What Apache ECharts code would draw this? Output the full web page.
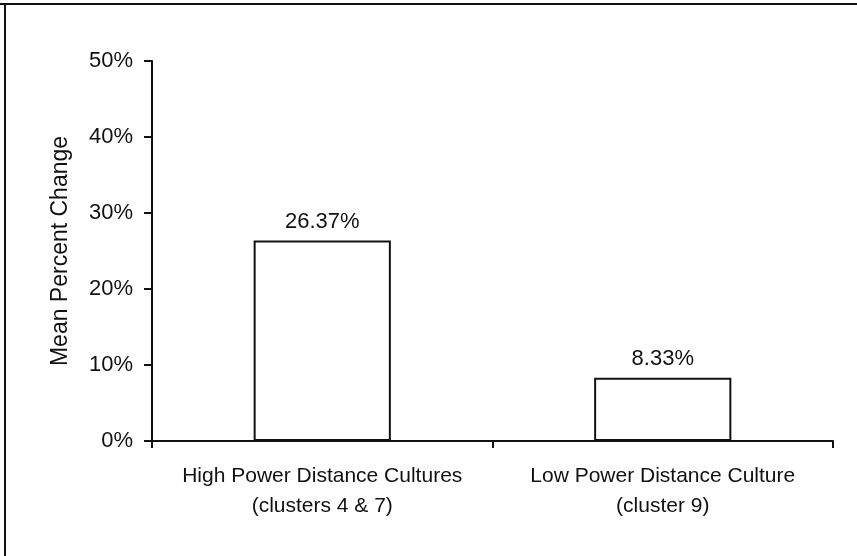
<!DOCTYPE html>
<html>
<head>
<meta charset="utf-8">
<script src="https://cdn.jsdelivr.net/npm/echarts@6/dist/echarts.min.js"></script>
<style>
  html, body { margin: 0; padding: 0; background: #fff; }
  #chart { width: 857px; height: 556px; }
</style>
</head>
<body>
<div id="chart"></div>
<script>
// Categories and values (mean percent change)
const categories = [
  'High Power Distance Cultures\n(clusters 4 & 7)',
  'Low Power Distance Culture\n(cluster 9)'
];
const meanChange = [26.37, 8.33];
const yTicks = [0, 10, 20, 30, 40, 50];

const FONT = '"Liberation Sans", Arial, Helvetica, sans-serif';
const chart = echarts.init(document.getElementById('chart'), null, { renderer: 'canvas' });

chart.setOption({
  backgroundColor: '#ffffff',
  animation: false,
  grid: { left: 152, right: 24, top: 61, bottom: 115, containLabel: false },
  graphic: [
    // frame lines along the top and left edges
    { type: 'line', shape: { x1: 0, y1: 4, x2: 857, y2: 4 }, style: { stroke: '#111', lineWidth: 2 } },
    { type: 'line', shape: { x1: 5, y1: 4, x2: 5, y2: 556 }, style: { stroke: '#111', lineWidth: 2 } }
  ],
  xAxis: {
    type: 'category',
    data: categories,
    axisLine: { show: true, lineStyle: { color: '#111', width: 2 } },
    axisTick: { show: true, interval: 0, alignWithLabel: false, length: 7, lineStyle: { color: '#111', width: 2 } },
    axisLabel: {
      interval: 0,
      color: '#111', fontFamily: FONT, fontSize: 21, lineHeight: 30, margin: 20
    },
    splitLine: { show: false }
  },
  yAxis: {
    type: 'value',
    min: yTicks[0],
    max: yTicks[yTicks.length - 1],
    interval: 10,
    name: 'Mean Percent Change',
    nameLocation: 'middle',
    nameGap: 80,
    nameRotate: 90,
    nameTextStyle: { color: '#111', fontFamily: FONT, fontSize: 23 },
    axisLine: { show: true, lineStyle: { color: '#111', width: 2 } },
    axisTick: { show: true, inside: false, length: 8, lineStyle: { color: '#111', width: 2 } },
    axisLabel: {
      color: '#111', fontFamily: FONT, fontSize: 22, margin: 19,
      formatter: v => v + '%'
    },
    splitLine: { show: false }
  },
  series: [{
    type: 'bar',
    data: meanChange,
    barWidth: '40.3%',
    itemStyle: { color: '#ffffff', borderColor: '#111', borderWidth: 2 },
    label: {
      show: true,
      position: 'top',
      distance: 8,
      color: '#111',
      fontFamily: FONT,
      fontSize: 22,
      formatter: p => p.value.toFixed(2) + '%'
    }
  }]
});
</script>
</body>
</html>
